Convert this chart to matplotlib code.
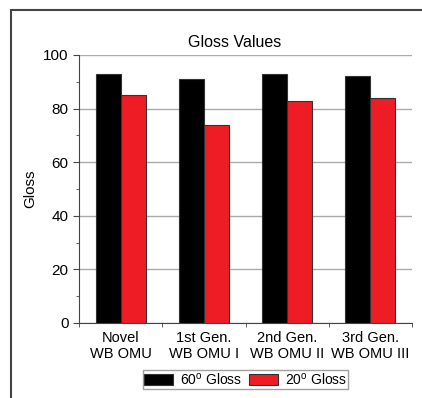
import numpy as np
import matplotlib.pyplot as plt
from matplotlib.lines import Line2D

plt.rcParams['font.family'] = ['Liberation Sans', 'DejaVu Sans']
plt.rcParams['mathtext.default'] = 'regular'

categories = ["Novel\nWB OMU", "1st Gen.\nWB OMU I", "2nd Gen.\nWB OMU II", "3rd Gen.\nWB OMU III"]
gloss60 = [93, 91, 93, 92]
gloss20 = [85, 74, 83, 84]
series_labels = [r"60$^{o}$ Gloss", r"20$^{o}$ Gloss"]

fig = plt.figure(figsize=(4.22, 3.98), dpi=100)
ax = fig.add_axes([79/422, 1 - 323/398, 333/422, 268/398])

# outer frame, cropped on the right and bottom
fx, fy = 11/422, 1 - 10/398
fig.add_artist(Line2D([fx, fx, 1.05], [-0.05, fy, fy], transform=fig.transFigure,
                      color='#444444', lw=1.5, solid_joinstyle='miter'))

x = np.arange(len(categories))
w = 0.3
ax.bar(x - w/2, gloss60, w, color='black', edgecolor='#333333', linewidth=0.8,
       label=series_labels[0], zorder=3)
ax.bar(x + w/2, gloss20, w, color='#ee1c25', edgecolor='#333333', linewidth=0.8,
       label=series_labels[1], zorder=3)

ax.set_xlim(-0.5, 3.5)
ax.set_ylim(0, 100)
ax.set_yticks(np.arange(0, 101, 20))
ax.set_yticks(np.arange(10, 100, 20), minor=True)
ax.yaxis.grid(True, color='#aaaaaa', linewidth=1, zorder=0)
ax.set_axisbelow(True)

ax.set_xticks(x)
ax.set_xticklabels(categories, fontsize=10.5, linespacing=1.15)
ax.tick_params(axis='x', length=0, pad=6)
ax.set_xticks(np.arange(-0.5, 4, 1), minor=True)
ax.tick_params(axis='x', which='minor', length=3, direction='out', color='#444444')
ax.tick_params(axis='y', which='major', length=4, labelsize=11, color='#444444')
ax.tick_params(axis='y', which='minor', length=2, color='#444444')

for s in ['top', 'right']:
    ax.spines[s].set_visible(False)
for s in ['left', 'bottom']:
    ax.spines[s].set_color('#444444')

ax.set_title("Gloss Values", fontsize=11.5, pad=6, x=0.468)
ax.set_ylabel("Gloss", fontsize=11, labelpad=4)

leg = ax.legend(loc='upper center', bbox_to_anchor=(0.5, -0.175), ncol=2, fontsize=10,
                frameon=True, fancybox=False, edgecolor='#888888', handlelength=2.1,
                handleheight=0.8, handletextpad=0.45, columnspacing=0.55,
                borderpad=0.1, borderaxespad=0)
leg.get_frame().set_linewidth(1)

fig.savefig("out.png", dpi=100)
